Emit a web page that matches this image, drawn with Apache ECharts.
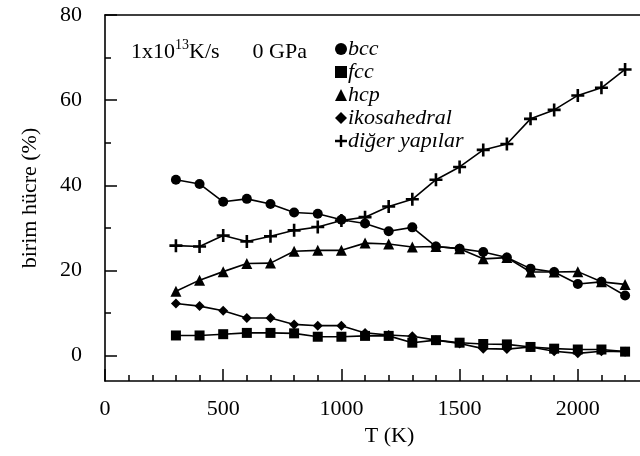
<!DOCTYPE html>
<html>
<head>
<meta charset="utf-8">
<script src="https://cdn.jsdelivr.net/npm/echarts@6/dist/echarts.min.js"></script>
<style>
  html, body { margin: 0; padding: 0; background: #fff; }
  #chart { width: 640px; height: 456px; }
</style>
</head>
<body>
<div id="chart"></div>
<script>
// sıcaklık (K)
var temps = [300, 400, 500, 600, 700, 800, 900, 1000, 1100, 1200,
             1300, 1400, 1500, 1600, 1700, 1800, 1900, 2000, 2100, 2200];
var bcc  = [41.3, 40.3, 36.1, 36.8, 35.6, 33.6, 33.3, 31.9, 31.0, 29.2,
            30.1, 25.6, 25.1, 24.3, 23.0, 20.4, 19.6, 16.8, 17.3, 14.1];
var fcc  = [4.7, 4.7, 5.0, 5.3, 5.3, 5.2, 4.4, 4.4, 4.6, 4.6,
            3.0, 3.6, 3.0, 2.7, 2.6, 2.0, 1.6, 1.4, 1.4, 0.9];
var hcp  = [15.1, 17.7, 19.7, 21.6, 21.7, 24.5, 24.7, 24.7, 26.4, 26.2,
            25.5, 25.6, 25.1, 22.7, 23.0, 19.6, 19.6, 19.7, 17.3, 16.7];
var ikos = [12.2, 11.6, 10.5, 8.8, 8.8, 7.3, 7.0, 7.0, 5.3, 4.8,
            4.5, 3.6, 2.8, 1.6, 1.5, 2.0, 1.0, 0.5, 1.0, 0.9];
var diger = [25.8, 25.6, 28.2, 26.8, 28.0, 29.4, 30.2, 31.7, 32.5, 35.0,
             36.7, 41.3, 44.3, 48.3, 49.7, 55.6, 57.7, 61.1, 62.9, 67.2];

var names = ['bcc', 'fcc', 'hcp', 'ikosahedral', 'diğer yapılar'];

var plus = 'path://M4,0h2v4h4v2h-4v4h-2v-4h-4v-2h4z';
var symbols = ['circle', 'rect', 'triangle', 'diamond', plus];
var sizes = [10, 10, 11, 10, 13];
var values = [bcc, fcc, hcp, ikos, diger];

var font = 'Liberation Serif';
var black = '#000';

function pairs(arr) {
    return temps.map(function (t, i) { return [t, arr[i]]; });
}

var series = names.map(function (n, k) {
    return {
        name: n,
        type: 'line',
        xAxisIndex: 0,
        yAxisIndex: 0,
        data: pairs(values[k]),
        symbol: symbols[k],
        symbolSize: sizes[k],
        lineStyle: { color: black, width: 1.6 },
        itemStyle: { color: black },
        animation: false
    };
});

var lineStyle = { color: black, width: 1.6 };
var tickStyle = { color: black, width: 1.5 };

var chart = echarts.init(document.getElementById('chart'));
var option = {
    backgroundColor: '#fff',
    animation: false,
    // grid 0: the data; grid 1: only the y ticks/labels (0..80), bottom at y=0
    // the plot is cut at the right edge of the picture, so the grids run past it
    grid: [
        { left: 105, right: -56, top: 15, bottom: 75, outerBoundsMode: 'none' },
        { left: 105, right: -56, top: 15, bottom: 100.5, outerBoundsMode: 'none' }
    ],
    title: {
        left: 126,
        top: 33,
        text: '{a|1x10}{s|13}{a|K/s      0 GPa}',
        textStyle: {
            fontWeight: 'normal',
            rich: {
                a: { fontFamily: font, fontSize: 22, fontWeight: 'normal', color: black, lineHeight: 28 },
                s: { fontFamily: font, fontSize: 14, fontWeight: 'normal', color: black, lineHeight: 14, verticalAlign: 'top' }
            }
        }
    },
    legend: {
        orient: 'vertical',
        left: 330,
        top: 33,
        itemGap: 1,
        itemWidth: 12,
        itemHeight: 12,
        textStyle: { fontFamily: font, fontSize: 22, fontStyle: 'italic', color: black, padding: [0, 0, 0, -4] },
        data: names.map(function (n, k) { return { name: n, icon: symbols[k] }; }),
        itemStyle: { color: black }
    },
    xAxis: [{
        gridIndex: 0,
        type: 'value',
        min: 0, max: 2500, interval: 500,
        position: 'bottom',
        name: 'T (K)',
        nameLocation: 'middle',
        nameGap: 44,
        nameTextStyle: { fontFamily: font, fontSize: 22, color: black, padding: [0, 22, 0, 0] },
        axisLine: { show: true, onZero: false, lineStyle: lineStyle },
        axisTick: { show: true, inside: true, length: 12, lineStyle: tickStyle },
        minorTick: { show: true, splitNumber: 5, length: 6, lineStyle: tickStyle },
        axisLabel: { show: true, margin: 17, fontFamily: font, fontSize: 22, color: black,
                     formatter: function (v) { return String(v); } },
        splitLine: { show: false }
    }, {
        gridIndex: 0,
        type: 'value',
        min: 0, max: 2500,
        position: 'top',
        axisLine: { show: true, onZero: false, lineStyle: lineStyle },
        axisTick: { show: false },
        axisLabel: { show: false },
        splitLine: { show: false }
    }, {
        gridIndex: 1,
        type: 'value',
        min: 0, max: 2500,
        show: false
    }],
    yAxis: [{
        gridIndex: 0,
        type: 'value',
        min: -6, max: 80,
        position: 'left',
        name: 'birim hücre (%)',
        nameLocation: 'middle',
        nameGap: 64,
        nameTextStyle: { fontFamily: font, fontSize: 22, color: black },
        axisLine: { show: true, onZero: false, lineStyle: lineStyle },
        axisTick: { show: false },
        axisLabel: { show: false },
        splitLine: { show: false }
    }, {
        gridIndex: 1,
        type: 'value',
        min: 0, max: 80, interval: 20,
        position: 'left',
        axisLine: { show: false, onZero: false },
        axisTick: { show: true, inside: true, length: 12, lineStyle: tickStyle },
        minorTick: { show: true, splitNumber: 2, length: 6, lineStyle: tickStyle },
        axisLabel: { show: true, margin: 23, fontFamily: font, fontSize: 22, color: black },
        splitLine: { show: false }
    }],
    series: series
};
chart.setOption(option);

window.onresize = function () {
    chart.resize();
};
</script>
</body>
</html>
